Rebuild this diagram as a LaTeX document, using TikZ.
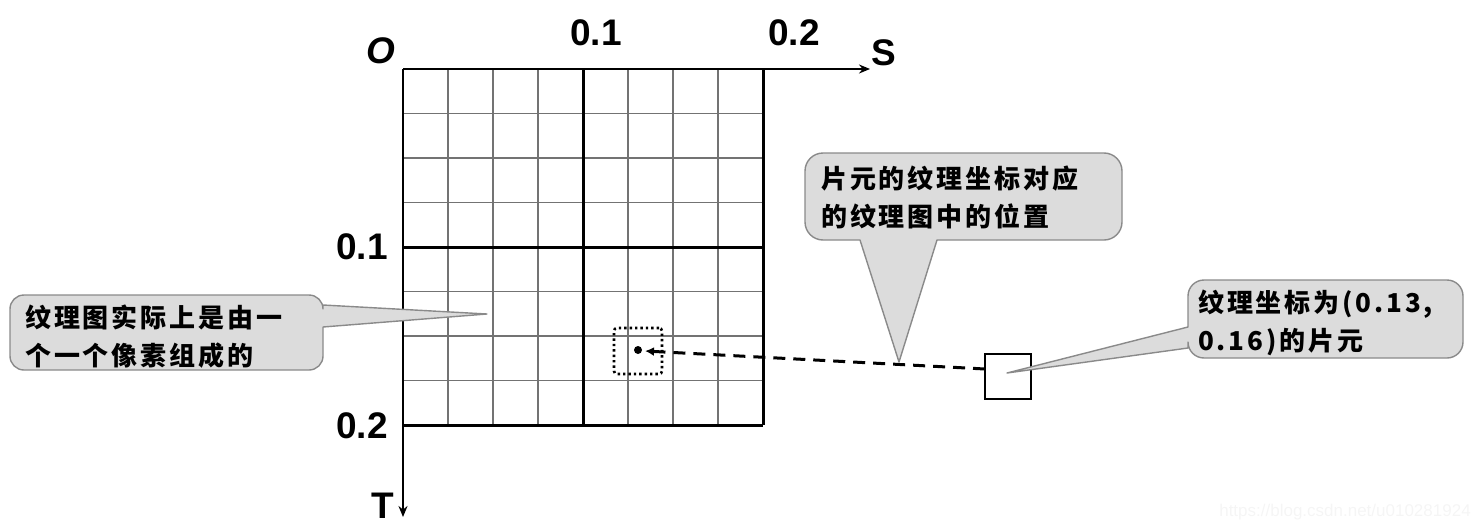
\documentclass[tikz,border=0pt]{standalone}
\usepackage{fontspec}
\setmainfont{Liberation Sans}
\newfontfamily\cjk[LetterSpace=11]{Noto Sans CJK SC}
\usetikzlibrary{arrows.meta}
\definecolor{callfill}{HTML}{DCDCDC}
\definecolor{callline}{HTML}{8A8A8A}
\tikzset{
  thinline/.style={draw=black!55, line width=1.6pt},
  thickline/.style={draw=black, line width=3pt},
  axis/.style={draw=black, line width=2.4pt, -{Stealth[length=11pt,width=9pt]}},
  axlabel/.style={font=\fontsize{37}{37}\selectfont\bfseries, inner sep=0pt},
  calltext/.style={font=\cjk\fontsize{26}{38}\selectfont\bfseries, align=left, inner sep=0pt, anchor=west},
  callout/.style={fill=callfill, draw=callline, line width=1.4pt, line join=round},
}
\begin{document}
\begin{tikzpicture}[x=1pt,y=-1pt]
\useasboundingbox (0,0) rectangle (1474,530);
% grid
\foreach \i in {1,2,3,5,6,7} {
  \draw[thinline] (403+45*\i,69) -- (403+45*\i,425);
  \draw[thinline] (403,69+44.5*\i) -- (763,69+44.5*\i);
}
\draw[thickline] (583,69) -- (583,425);
\draw[thickline] (763,69) -- (763,425);
\draw[thickline] (403,247) -- (763,247);
\draw[thickline] (403,425) -- (763,425);
% axes
\coordinate (o) at (403,69);
\coordinate (send) at (870,69);
\coordinate (tend) at (403,517);
\draw[axis] (o) -- (send);
\draw[axis] (o) -- (tend);
% axis labels
\node[axlabel, font=\fontsize{37}{37}\selectfont\bfseries\itshape] (lo) at (381,51) {O};
\node[axlabel] (ls1) at (596,33) {0.1};
\node[axlabel] (ls2) at (794,33) {0.2};
\node[axlabel] (ls) at (884,53) {S};
\node[axlabel] (lt1) at (362,247) {0.1};
\node[axlabel] (lt2) at (362,426) {0.2};
\node[axlabel] (lt) at (383,506) {T};
% fragment in the texture
\node[draw=black, line width=2.6pt, dash pattern=on 2.4pt off 3pt, rounded corners=3pt,
      minimum width=48pt, minimum height=46pt, inner sep=0pt] (dbox) at (638,351) {};
\node[circle, fill=black, inner sep=0pt, minimum size=8pt] (pt) at (638,350) {};
% fragment square
\node[draw=black, line width=1.6pt, minimum width=46pt, minimum height=45pt, inner sep=0pt] (frag) at (1008,376.5) {};
\coordinate (fragin) at (985,369);
\coordinate (ptin) at (645,351);
\draw[line width=3pt, dash pattern=on 12pt off 8pt, -{Latex[length=9pt,width=9pt]}] (fragin) -- (ptin);
% callout 1 (left)
\draw[callout] (323,327) -- (487,314) -- (323,305)
  [rounded corners=14pt] -- (323,295) -- (10,295) -- (10,370) -- (323,370) [sharp corners] -- cycle;
\node[calltext] (c1) at (25,337) {纹理图实际上是由一\\个一个像素组成的};
% callout 2 (top)
\draw[callout] (937,240) -- (899,362) -- (860,240)
  [rounded corners=18pt] -- (805,240) -- (805,153) -- (1122,153) -- (1122,240) [sharp corners] -- cycle;
\node[calltext] (c2) at (821,197) {片元的纹理坐标对应\\的纹理图中的位置};
% callout 3 (right)
\draw[callout] (1188,348) -- (1007,373) -- (1188,327)
  [rounded corners=16pt] -- (1188,280) -- (1463,280) -- (1463,358) -- (1188,358) [sharp corners] -- cycle;
\node[calltext] (c3) at (1198,323) {纹理坐标为(0.13,\\0.16)的片元};
% watermark
\node[font=\fontsize{17}{17}\selectfont, text=gray!8, inner sep=0pt] (wm) at (1345,512) {https://blog.csdn.net/u010281924};
\end{tikzpicture}
\end{document}
